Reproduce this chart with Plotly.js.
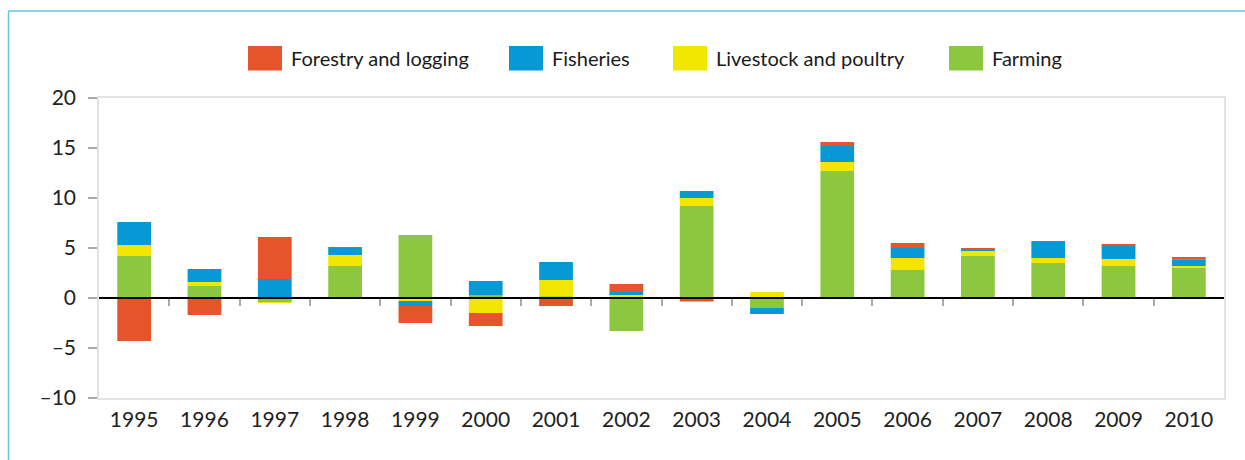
<!DOCTYPE html>
<html>
<head>
<meta charset="utf-8">
<script src="https://cdn.plot.ly/plotly-3.0.1.min.js"></script>
<style>
html,body{margin:0;padding:0;background:#fff;}
#chart{width:1245px;height:460px;}
</style>
</head>
<body>
<div id="chart"></div>
<script>
// ---- data ----
const years = ["1995","1996","1997","1998","1999","2000","2001","2002","2003","2004","2005","2006","2007","2008","2009","2010"];
const farming   = [4.2, 1.2, -0.4, 3.2, 6.3, 0.25, 0.15, -3.3, 9.2, -1.0, 12.7, 2.8, 4.2, 3.5, 3.2, 3.0];
const livestock = [1.1, 0.4, -0.1, 1.1, -0.3, -1.5, 1.65, 0.3, 0.8, 0.6, 0.9, 1.2, 0.5, 0.5, 0.7, 0.2];
const fisheries = [2.3, 1.3, 1.9, 0.7, -0.5, 1.45, 1.8, 0.3, 0.7, -0.6, 1.6, 1.0, 0.15, 1.6, 1.37, 0.67];
const forestry  = [-4.3, -1.7, 4.2, 0.1, -1.7, -1.3, -0.8, 0.8, -0.35, 0, 0.4, 0.5, 0.15, 0.1, 0.13, 0.23];
const seriesNames = ["Farming", "Livestock and poultry", "Fisheries", "Forestry and logging"];
const yTicks = [-10, -5, 0, 5, 10, 15, 20];

// ---- styles ----
const colors = ["#8dc63f", "#f2e600", "#0799d6", "#e5542a"];
const FONT = "Lato, 'Open Sans', sans-serif";
const L = 99, R = 1224, T = 98, B = 398;
const W = R - L, H = B - T;
const px = v => (v - L) / W;
const py = v => (B - v) / H;

const seriesValues = [farming, livestock, fisheries, forestry];
const traces = seriesValues.map((vals, i) => ({
  type: "bar",
  x: years,
  y: vals,
  name: seriesNames[i],
  marker: {color: colors[i], line: {width: 0}},
  showlegend: false,
  hoverinfo: "x+y+name"
}));

// boundary tick positions for the zero-line axis
const boundaryTicks = years.slice(0, -1).map((_, i) => i + 0.5);
// invisible helper trace so that the zero-line axis (xaxis2) is drawn
traces.push({
  type: "scatter", mode: "none", x: boundaryTicks, y: boundaryTicks.map(() => 0),
  xaxis: "x2", yaxis: "y", showlegend: false, hoverinfo: "skip"
});

// custom legend (order: Forestry, Fisheries, Livestock, Farming)
const legendItems = [
  {idx: 3, sx: 248},
  {idx: 2, sx: 509},
  {idx: 1, sx: 673},
  {idx: 0, sx: 949}
];
const shapes = [];
const annotations = [];
legendItems.forEach(it => {
  shapes.push({type: "rect", xref: "paper", yref: "paper",
    x0: px(it.sx), x1: px(it.sx + 34), y0: py(70.5), y1: py(46),
    fillcolor: colors[it.idx], line: {width: 0}});
  annotations.push({xref: "paper", yref: "paper", x: px(it.sx + 41), y: py(58),
    xanchor: "left", yanchor: "middle", showarrow: false,
    text: seriesNames[it.idx], font: {family: FONT, size: 20, color: "#1a1a1a"}});
});
// cyan frame lines (top and left)
shapes.push({type: "line", xref: "paper", yref: "paper", x0: px(8.5), x1: px(1245), y0: py(11), y1: py(11), line: {color: "#5cc6e6", width: 1.5}});
shapes.push({type: "line", xref: "paper", yref: "paper", x0: px(8.5), x1: px(8.5), y0: py(11), y1: py(460), line: {color: "#5cc6e6", width: 1.5}});

const layout = {
  width: 1245, height: 460,
  margin: {l: L, r: 1245 - R, t: T, b: 460 - B, pad: 0},
  paper_bgcolor: "#fff", plot_bgcolor: "#fff",
  barmode: "relative",
  bargap: 0.52,
  showlegend: false,
  font: {family: FONT, size: 21, color: "#222"},
  xaxis: {
    type: "category", categoryorder: "array", categoryarray: years,
    range: [-0.5, years.length - 0.5],
    showline: true, linecolor: "#e2e2e2", linewidth: 1.5, mirror: true,
    ticks: "", showgrid: false, zeroline: false,
    tickfont: {family: FONT, size: 21, color: "#222"},
    ticklabelstandoff: 2, fixedrange: true
  },
  xaxis2: {
    overlaying: "x", anchor: "free", position: (0 - yTicks[0]) / (yTicks[yTicks.length - 1] - yTicks[0]),
    type: "linear", range: [-0.5, years.length - 0.5],
    showline: true, linecolor: "#000", linewidth: 2,
    ticks: "outside", ticklen: 7, tickwidth: 2, tickcolor: "#aaa",
    tickvals: boundaryTicks, showticklabels: false,
    showgrid: false, zeroline: false, fixedrange: true
  },
  yaxis: {
    range: [yTicks[0], yTicks[yTicks.length - 1]],
    tickvals: yTicks,
    ticktext: yTicks.map(v => v < 0 ? "\u2013" + Math.abs(v) : String(v)),
    showline: true, linecolor: "#e2e2e2", linewidth: 1.5, mirror: true,
    ticks: "outside", ticklen: 9, tickwidth: 1.5, tickcolor: "#aaa",
    showgrid: false, zeroline: false,
    tickfont: {family: FONT, size: 21, color: "#222"},
    ticklabelstandoff: 8, fixedrange: true
  },
  shapes: shapes,
  annotations: annotations
};

Plotly.newPlot("chart", traces, layout, {displayModeBar: false, responsive: false});
</script>
</body>
</html>
